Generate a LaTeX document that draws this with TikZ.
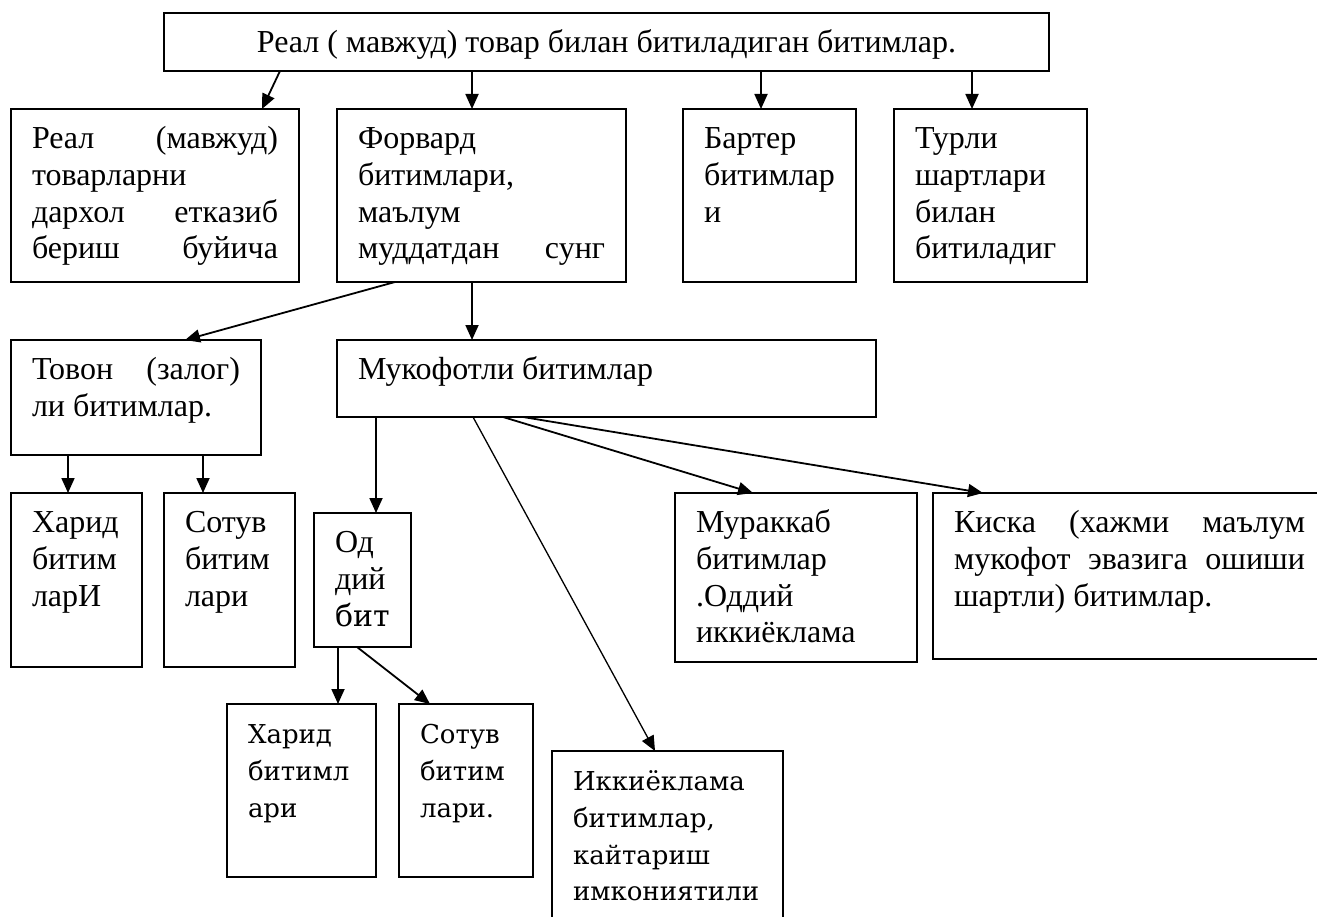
\documentclass[tikz,border=0pt]{standalone}
\usepackage{fontspec}
\setmainfont{Liberation Serif}
\newfontfamily\dvfont{DejaVu Serif}
\usetikzlibrary{arrows.meta}
\hyphenpenalty=10000
\newcommand{\boxtext}[3]{\parbox[c][\dimexpr#2pt-28pt\relax][t]{\dimexpr#1pt-42pt\relax}{\strut#3}}
\newcommand{\jl}[1]{\makebox[\linewidth][s]{#1}}

\begin{document}
\begin{tikzpicture}[x=1pt,y=-1pt,
	box/.style={draw, line width=1.4pt, anchor=north west, inner xsep=21pt, inner ysep=14pt, outer sep=0pt, font=\fontsize{32}{36.7}\selectfont},
	dvbox/.style={box, font=\fontsize{26}{36.7}\selectfont\dvfont},
	arr/.style={line width=1.8pt, -{Triangle[length=15pt,width=13pt]}}]
		\useasboundingbox (0,0) rectangle (1317,917);
		\clip (0,0) rectangle (1317,917);
		\fill [white] (0,0) rectangle (1317,917);
		\node [box] (top) at (164,13) {\boxtext{885}{58}{\centering Реал ( мавжуд) товар билан битиладиган битимлар.}};
		\node [box] (real) at (11,109) {\boxtext{288}{173}{\jl{Реал (мавжуд)}\\товарларни\\\jl{дархол етказиб}\\\jl{бериш буйича}}};
		\node [box] (forw) at (337,109) {\boxtext{289}{173}{Форвард\\битимлари,\\маълум\\\jl{муддатдан сунг}}};
		\node [box] (bart) at (683,109) {\boxtext{173}{173}{Бартер\\битимлар\\и}};
		\node [box] (turli) at (894,109) {\boxtext{193}{173}{Турли\\шартлари\\билан\\битиладиг}};
		\node [box] (tovon) at (11,340) {\boxtext{250}{115}{\jl{Товон (залог)}\\ли битимлар.}};
		\node [box] (muk) at (337,340) {\boxtext{539}{77}{Мукофотли битимлар}};
		\node [box] (harid) at (11,493) {\boxtext{131}{174}{Харид\\битим\\ларИ}};
		\node [box] (sotuv) at (164,493) {\boxtext{131}{174}{Сотув\\битим\\лари}};
		\node [box] (oddiy) at (314,513) {\boxtext{97}{134}{Од\\дий\\{\dvfont\fontsize{30}{36.7}\selectfont бит}}};
		\node [dvbox] (harid2) at (227,704) {\boxtext{149}{173}{Харид\\битимл\\ари}};
		\node [dvbox] (sotuv2) at (399,704) {\boxtext{134}{173}{Сотув\\битим\\лари.}};
		\node [box] (murak) at (675,493) {\boxtext{242}{169}{Мураккаб\\битимлар\\.Оддий\\иккиёклама}};
		\node [box] (kiska) at (933,493) {\boxtext{393}{166}{\jl{Киска (хажми маълум}\\\jl{мукофот эвазига ошиши}\\шартли) битимлар.}};
		\node [dvbox] (ikki) at (552,751) {\boxtext{231}{200}{Иккиёклама\\битимлар,\\кайтариш\\имкониятили}};
		\draw [arr] ([xshift=116pt]top.south west) -- ([xshift=251pt]real.north west);
		\draw [arr] ([xshift=308pt]top.south west) -- ([xshift=135pt]forw.north west);
		\draw [arr] ([xshift=597pt]top.south west) -- ([xshift=78pt]bart.north west);
		\draw [arr] ([xshift=808pt]top.south west) -- ([xshift=78pt]turli.north west);
		\draw [arr] ([xshift=58pt]forw.south west) -- ([xshift=174pt]tovon.north west);
		\draw [arr] ([xshift=135pt]forw.south west) -- ([xshift=135pt]muk.north west);
		\draw [arr] ([xshift=57pt]tovon.south west) -- ([xshift=57pt]harid.north west);
		\draw [arr] ([xshift=192pt]tovon.south west) -- ([xshift=39pt]sotuv.north west);
		\draw [arr] ([xshift=39pt]muk.south west) -- ([xshift=62pt]oddiy.north west);
		\draw [arr, line width=1.3pt] ([xshift=136pt]muk.south west) -- ([xshift=103pt]ikki.north west);
		\draw [arr] ([xshift=166pt]muk.south west) -- ([xshift=78pt]murak.north west);
		\draw [arr] ([xshift=186pt]muk.south west) -- ([xshift=50pt]kiska.north west);
		\draw [arr] ([xshift=24pt]oddiy.south west) -- ([xshift=111pt]harid2.north west);
		\draw [arr] ([xshift=43pt]oddiy.south west) -- ([xshift=31pt]sotuv2.north west);
\end{tikzpicture}
\end{document}
